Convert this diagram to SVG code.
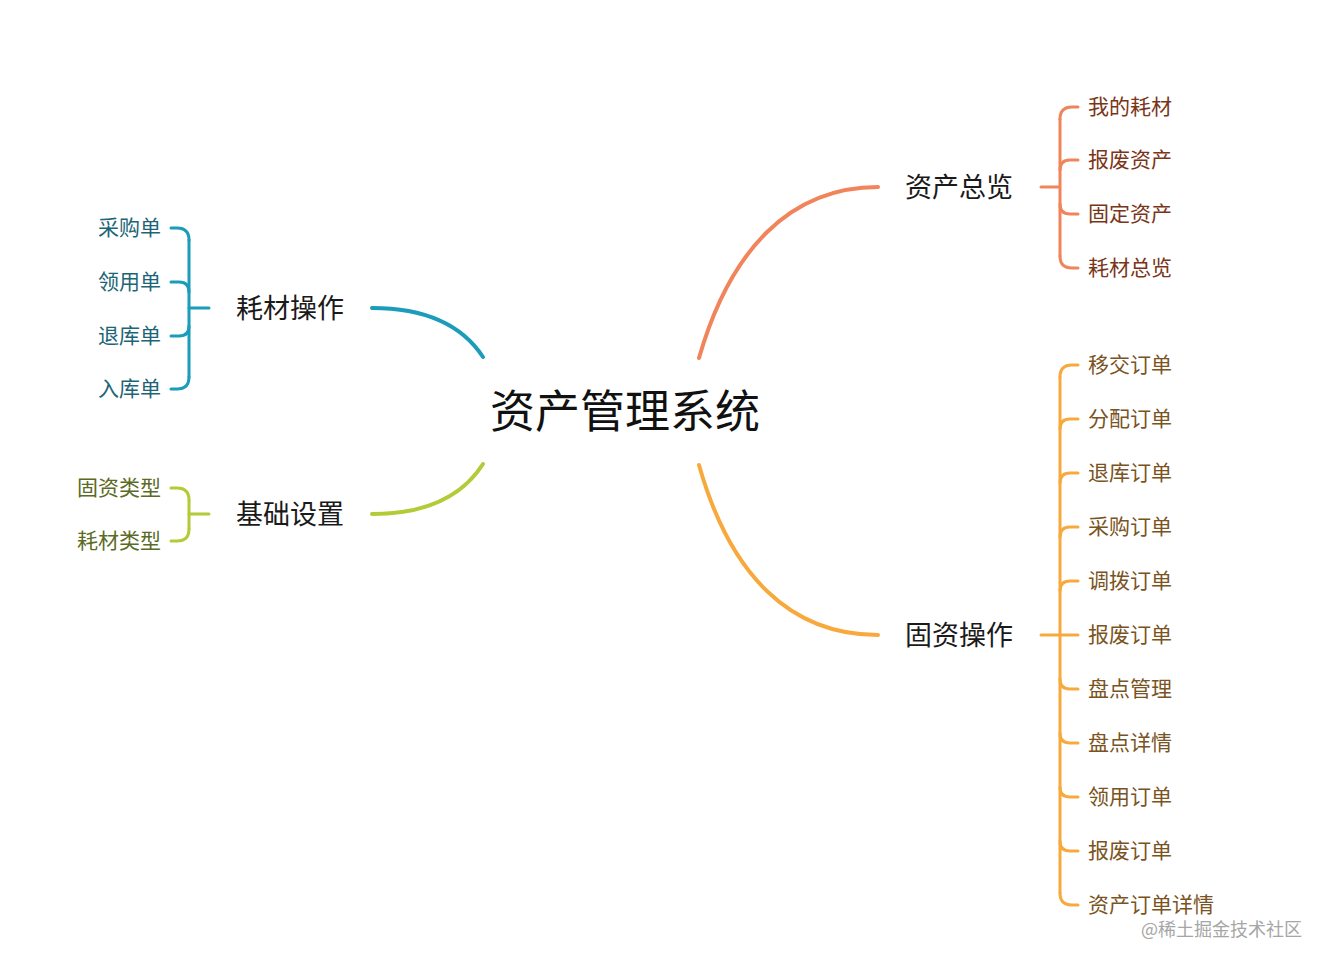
<svg xmlns="http://www.w3.org/2000/svg" width="1327" height="963" viewBox="0 0 1327 963">
<style>
text{font-family:"Noto Sans CJK SC","Noto Sans",sans-serif;dominant-baseline:central;transform:translateY(-2px)}
.c{fill:none;stroke-width:4;stroke-linecap:round}
.b{fill:none;stroke-width:3;stroke-linecap:round}
.main{font-size:27px;fill:#1a1a1a}
.sub{font-size:21px}
.red{stroke:#F1845A}.tred{fill:#7A3519}
.teal{stroke:#1A9CBA}.tteal{fill:#1C6576}
.grn{stroke:#B4CA36}.tgrn{fill:#5B6A25}
.org{stroke:#F8A93E}.torg{fill:#7A5322}
text.wm{transform:none;font-size:18px;fill:#a6a6a6}
</style>
<rect width="1327" height="963" fill="#fff"/>
<g id="connectors">
<path class="c red" d="M699,358 C730,250 790,187 878,187"/>
<path class="c org" d="M699,465 C730,575 790,635 878,635"/>
<path class="c teal" d="M372,308 C420,308 460,322 483,357"/>
<path class="c grn" d="M372,514 C420,514 460,500 483,464"/>
</g>
<g id="center"><text x="625" y="410" text-anchor="middle" style="font-size:45px;fill:#111">资产管理系统</text></g>
<g id="n-zczl">
<text class="main" x="905" y="187">资产总览</text>
<g class="b red">
<path d="M1041,187 H1059"/>
<path d="M1060,119 V256"/>
<path d="M1078,107 H1072 Q1060,107 1060,119"/>
<path d="M1078,160 H1070 Q1060,160 1060,170"/>
<path d="M1078,214 H1070 Q1060,214 1060,204"/>
<path d="M1078,268 H1072 Q1060,268 1060,256"/>
</g>
<g class="sub tred">
<text x="1088" y="107">我的耗材</text>
<text x="1088" y="160">报废资产</text>
<text x="1088" y="214">固定资产</text>
<text x="1088" y="268">耗材总览</text>
</g>
</g>
<g id="n-hccz">
<text class="main" x="236" y="308">耗材操作</text>
<g class="b teal">
<path d="M189,308 H209"/>
<path d="M189,240 V377"/>
<path d="M171,228 H177 Q189,228 189,240"/>
<path d="M171,282 H179 Q189,282 189,292"/>
<path d="M171,336 H179 Q189,336 189,326"/>
<path d="M171,389 H177 Q189,389 189,377"/>
</g>
<g class="sub tteal" text-anchor="end">
<text x="161" y="228">采购单</text>
<text x="161" y="282">领用单</text>
<text x="161" y="336">退库单</text>
<text x="161" y="389">入库单</text>
</g>
</g>
<g id="n-jcsz">
<text class="main" x="236" y="514">基础设置</text>
<g class="b grn">
<path d="M189,514 H209"/>
<path d="M189,500 V529"/>
<path d="M171,488 H177 Q189,488 189,500"/>
<path d="M171,541 H177 Q189,541 189,529"/>
</g>
<g class="sub tgrn" text-anchor="end">
<text x="161" y="488">固资类型</text>
<text x="161" y="541">耗材类型</text>
</g>
</g>
<g id="n-gzcz">
<text class="main" x="905" y="635">固资操作</text>
<g class="b org">
<path d="M1041,635 H1078"/>
<path d="M1060,377 V893"/>
<path d="M1078,365 H1072 Q1060,365 1060,377"/>
<path d="M1078,419 H1070 Q1060,419 1060,429"/>
<path d="M1078,473 H1070 Q1060,473 1060,483"/>
<path d="M1078,527 H1070 Q1060,527 1060,537"/>
<path d="M1078,581 H1070 Q1060,581 1060,591"/>
<path d="M1078,689 H1070 Q1060,689 1060,679"/>
<path d="M1078,743 H1070 Q1060,743 1060,733"/>
<path d="M1078,797 H1070 Q1060,797 1060,787"/>
<path d="M1078,851 H1070 Q1060,851 1060,841"/>
<path d="M1078,905 H1072 Q1060,905 1060,893"/>
</g>
<g class="sub torg">
<text x="1088" y="365">移交订单</text>
<text x="1088" y="419">分配订单</text>
<text x="1088" y="473">退库订单</text>
<text x="1088" y="527">采购订单</text>
<text x="1088" y="581">调拨订单</text>
<text x="1088" y="635">报废订单</text>
<text x="1088" y="689">盘点管理</text>
<text x="1088" y="743">盘点详情</text>
<text x="1088" y="797">领用订单</text>
<text x="1088" y="851">报废订单</text>
<text x="1088" y="905">资产订单详情</text>
</g>
</g>
<text class="wm" x="1302" y="928" text-anchor="end">@稀土掘金技术社区</text>
</svg>
